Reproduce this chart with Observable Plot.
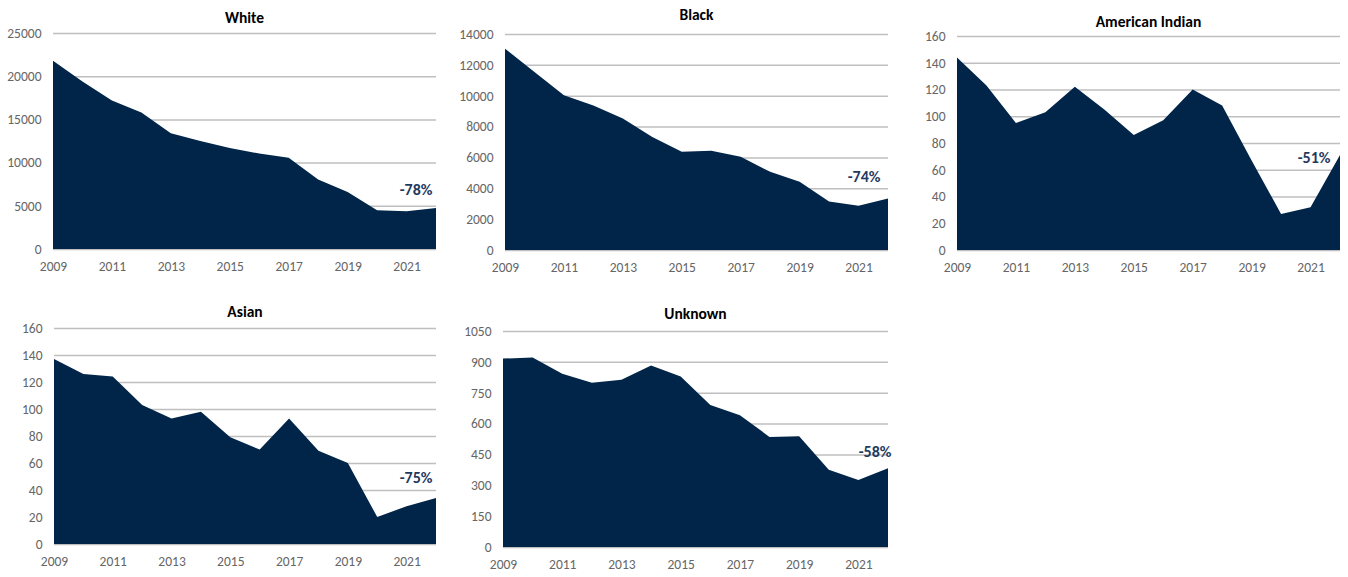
<!DOCTYPE html>
<html>
<head>
<meta charset="utf-8">
<script src="https://cdn.jsdelivr.net/npm/d3@7"></script>
<script src="https://cdn.jsdelivr.net/npm/@observablehq/plot@0.6"></script>
<style>
  html, body { margin: 0; padding: 0; background: #fff; }
  body { width: 1348px; height: 577px; position: relative; overflow: hidden; font-family: Carlito, Lato, "Liberation Sans", sans-serif; }
  .panel { position: absolute; }
  .title { position: absolute; font-weight: bold; font-size: 15.5px; color: #000; text-align: center; white-space: nowrap; transform: translate(-50%, -50%); }
  svg { display: block; overflow: visible; }
</style>
</head>
<body>
<script>
const years = [2009, 2010, 2011, 2012, 2013, 2014, 2015, 2016, 2017, 2018, 2019, 2020, 2021, 2022];
const xTicks = [2009, 2011, 2013, 2015, 2017, 2019, 2021];

const titles = ["White", "Black", "American Indian", "Asian", "Unknown"];
const changeLabels = ["-78%", "-74%", "-51%", "-75%", "-58%"];

const white   = [21800, 19400, 17200, 15800, 13400, 12500, 11700, 11050, 10550, 8050, 6600, 4480, 4370, 4750];
const black   = [13050, 11540, 10030, 9360, 8520, 7330, 6360, 6430, 6040, 5070, 4420, 3150, 2870, 3340];
const amIndian = [144, 123, 95, 103, 122, 105, 86, 97, 120, 108, 67, 27, 32, 71];
const asian   = [137, 126, 124, 103, 93, 98, 79, 70, 93, 69, 60, 20, 28, 34];
const unknown = [916, 921, 842, 798, 813, 882, 829, 690, 641, 535, 538, 375, 326, 383];

const yTicksWhite = [0, 5000, 10000, 15000, 20000, 25000];
const yTicksBlack = [0, 2000, 4000, 6000, 8000, 10000, 12000, 14000];
const yTicksAmIndian = [0, 20, 40, 60, 80, 100, 120, 140, 160];
const yTicksAsian = [0, 20, 40, 60, 80, 100, 120, 140, 160];
const yTicksUnknown = [0, 150, 300, 450, 600, 750, 900, 1050];

const seriesList = [white, black, amIndian, asian, unknown];
const tickList = [yTicksWhite, yTicksBlack, yTicksAmIndian, yTicksAsian, yTicksUnknown];

// layout (panel frame + margins), label placement
const layout = [
  {left: 0,   top: 0,   width: 450, height: 290, mt: 33, mb: 41, ml: 53, mr: 14, titleY: 17, ldx: -4,  ldy: -19, lw: "bold"},
  {left: 450, top: 0,   width: 450, height: 290, mt: 34, mb: 40, ml: 55, mr: 12, titleY: 14, ldx: -8,  ldy: -22, lw: "bold"},
  {left: 900, top: 0,   width: 448, height: 290, mt: 36, mb: 40, ml: 57, mr: 8,  titleY: 21, ldx: -10, ldy: 2,  lw: "600"},
  {left: 0,   top: 295, width: 450, height: 282, mt: 33, mb: 33, ml: 54, mr: 14, titleY: 16, ldx: -4,  ldy: -21, lw: "600"},
  {left: 450, top: 295, width: 450, height: 282, mt: 36, mb: 30, ml: 53, mr: 12, titleY: 18, ldx: 3,   ldy: -17, lw: "600"}
];

const navy = "#002548";
const grid = "#bfbfbf";
const tickColor = "#666666";

seriesList.forEach((vals, i) => {
  const L = layout[i];
  const ticks = tickList[i];
  const data = years.map((y, j) => ({year: y, value: vals[j]}));
  const last = data[data.length - 1];

  const div = document.createElement("div");
  div.className = "panel";
  div.style.left = L.left + "px";
  div.style.top = L.top + "px";
  div.style.width = L.width + "px";
  div.style.height = L.height + "px";

  const chart = Plot.plot({
    width: L.width,
    height: L.height,
    marginTop: L.mt,
    marginBottom: L.mb,
    marginLeft: L.ml,
    marginRight: L.mr,
    style: {fontFamily: "Carlito, Lato, 'Liberation Sans', sans-serif", fontSize: "13.5px", color: tickColor, background: "transparent", overflow: "visible"},
    x: {domain: [2009, 2022], ticks: xTicks, tickFormat: d => String(d), tickSize: 0, tickPadding: 12, label: null},
    y: {domain: [0, ticks[ticks.length - 1]], ticks: ticks, tickFormat: d => String(d), tickSize: 0, tickPadding: 12, label: null},
    marks: [
      Plot.ruleY(ticks, {stroke: grid, strokeWidth: 1.5}),
      Plot.areaY(data, {x: "year", y: "value", fill: navy}),
      Plot.text([last], {x: "year", y: "value", text: () => changeLabels[i], textAnchor: "end", dx: L.ldx, dy: L.ldy, fill: "#1f3a5f", fontSize: 16, fontWeight: L.lw})
    ]
  });
  div.appendChild(chart);

  const t = document.createElement("div");
  t.className = "title";
  t.textContent = titles[i];
  t.style.left = (L.ml + (L.width - L.ml - L.mr) / 2) + "px";
  t.style.top = L.titleY + "px";
  div.appendChild(t);

  document.body.appendChild(div);
});
</script>
</body>
</html>
